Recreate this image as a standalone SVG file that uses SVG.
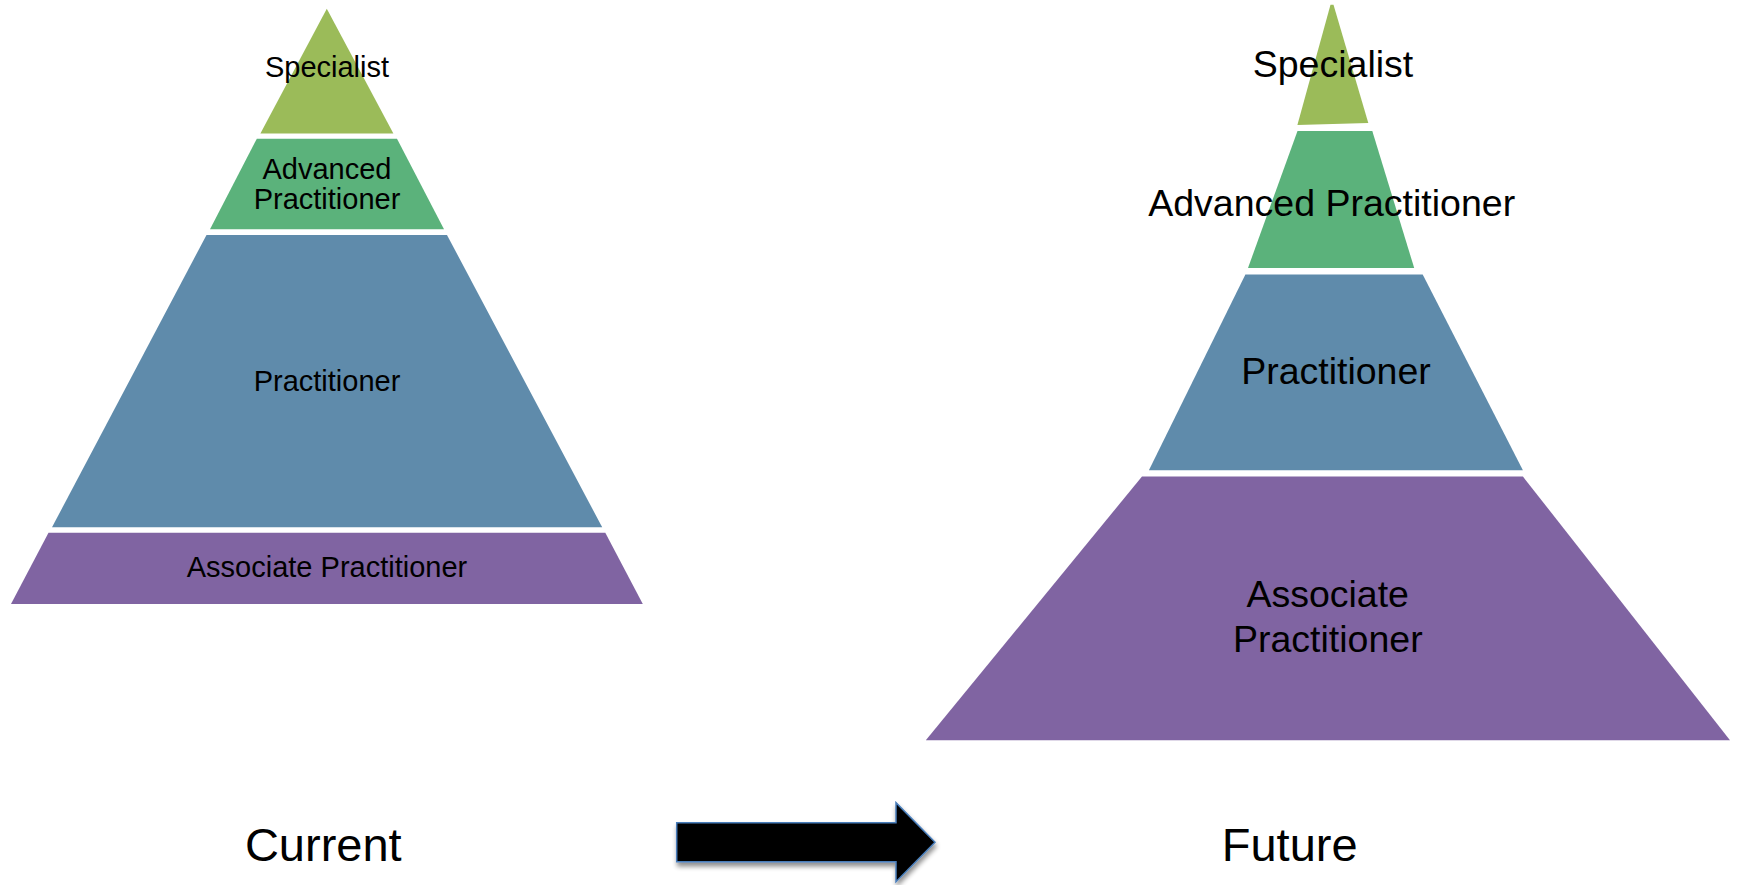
<svg xmlns="http://www.w3.org/2000/svg" width="1737" height="885" viewBox="0 0 1737 885">
  <style>
    .lbl { font-family: "Liberation Sans", Arial, sans-serif; fill: #000; text-anchor: middle; }
    .s  { font-size: 29px; }
    .m  { font-size: 37.5px; }
    .l  { font-size: 47px; }
    .spec { fill: #9BBB59; }
    .adv  { fill: #5BB27B; }
    .prac { fill: #5F8BAB; }
    .assoc { fill: #8064A2; }
  </style>
  <defs>
    <filter id="shadow" x="-10%" y="-20%" width="130%" height="160%">
      <feGaussianBlur in="SourceAlpha" stdDeviation="2.5"/>
      <feOffset dx="1" dy="4" result="b"/>
      <feComponentTransfer><feFuncA type="linear" slope="0.45"/></feComponentTransfer>
      <feMerge><feMergeNode/><feMergeNode in="SourceGraphic"/></feMerge>
    </filter>
  </defs>
  <rect width="1737" height="885" fill="#fff"/>

  <!-- Current workforce pyramid -->
  <g id="current-specialist">
    <polygon class="spec" points="326.8,8.7 393.4,133.5 260.4,133.5"/>
    <text class="lbl s" x="327" y="77">Specialist</text>
  </g>
  <g id="current-advanced">
    <polygon class="adv" points="256.8,138.8 397,138.8 444,229.3 210,229.3"/>
    <text class="lbl s" x="327" y="178.7">Advanced</text>
    <text class="lbl s" x="327" y="208.8">Practitioner</text>
  </g>
  <g id="current-practitioner">
    <polygon class="prac" points="206.5,235 447,235 602.2,527.3 52,527.3"/>
    <text class="lbl s" x="327" y="390.7">Practitioner</text>
  </g>
  <g id="current-associate">
    <polygon class="assoc" points="48.5,532.8 605.3,532.8 642.8,604 11,604"/>
    <text class="lbl s" x="327" y="577.3">Associate Practitioner</text>
  </g>

  <!-- Future workforce pyramid -->
  <g id="future-specialist">
    <polygon class="spec" points="1330.5,4.8 1333.5,4.8 1368.3,123 1297.4,125"/>
    <text class="lbl m" x="1333" y="76.6">Specialist</text>
  </g>
  <g id="future-advanced">
    <polygon class="adv" points="1297.5,131 1372.3,131 1414.2,268 1248,268"/>
    <text class="lbl m" x="1331.7" y="215.7">Advanced Practitioner</text>
  </g>
  <g id="future-practitioner">
    <polygon class="prac" points="1245.4,274.4 1422.7,274.4 1522.9,470.2 1148.9,470.2"/>
    <text class="lbl m" x="1336" y="384.4">Practitioner</text>
  </g>
  <g id="future-associate">
    <polygon class="assoc" points="1142,476.5 1522.9,476.5 1730,740.2 925.8,740.2"/>
    <text class="lbl m" x="1327.7" y="607.4">Associate</text>
    <text class="lbl m" x="1327.8" y="652">Practitioner</text>
  </g>

  <!-- Captions -->
  <g id="caption-current">
    <text class="lbl l" x="323.3" y="861">Current</text>
  </g>
  <g id="caption-future">
    <text class="lbl l" x="1289.7" y="861">Future</text>
  </g>

  <!-- Transition arrow -->
  <g id="connectors">
    <polygon points="676.7,822.7 896,822.7 896,802.7 935,842.3 896,881.7 896,861.7 676.7,861.7"
             fill="#000" stroke="#4A7EBB" stroke-width="1.5" stroke-linejoin="miter" filter="url(#shadow)"/>
  </g>
</svg>
